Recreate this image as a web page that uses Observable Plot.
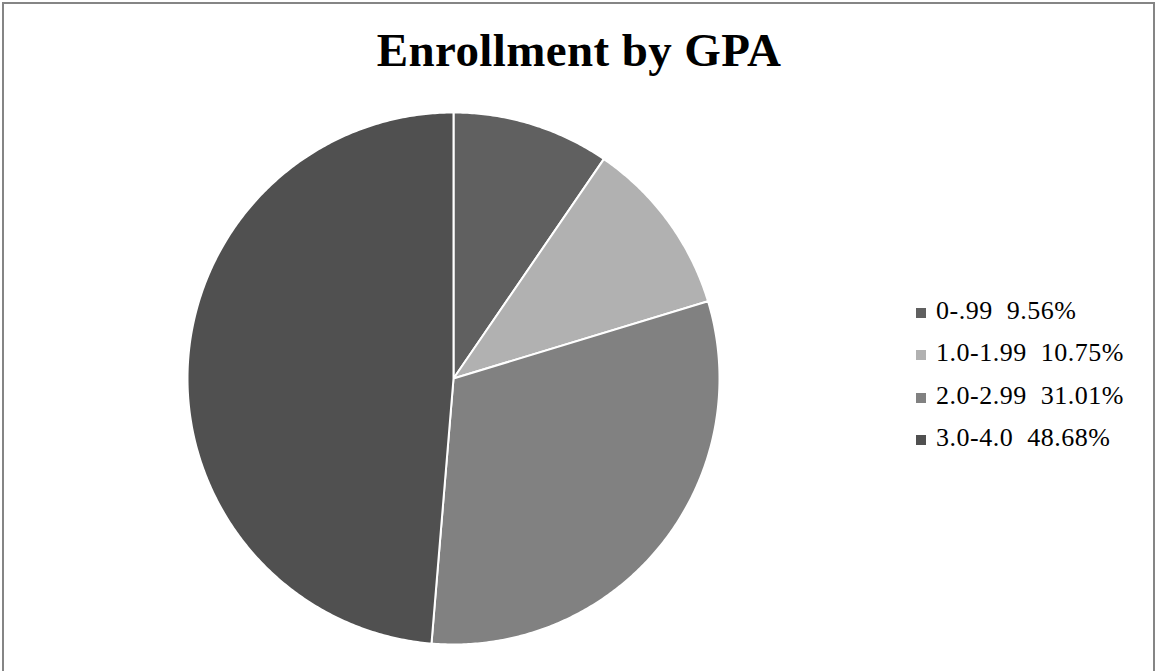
<!DOCTYPE html>
<html>
<head>
<meta charset="utf-8">
<script src="https://cdn.jsdelivr.net/npm/d3@7"></script>
<script src="https://cdn.jsdelivr.net/npm/@observablehq/plot@0.6"></script>
<style>
  html, body { margin: 0; padding: 0; background: #fff; overflow: hidden; }
  #frame { position: relative; width: 1155px; height: 671px; overflow: hidden; background: #fff; }
  #border { position: absolute; left: 2px; top: 2px; width: 1153px; height: 720px; box-sizing: border-box;
            border: 2px solid #858585; }
  #title { position: absolute; left: 0; width: 1158px; top: 24px; text-align: center;
           font-family: "Liberation Serif", serif; font-weight: bold; font-size: 47px; letter-spacing: 0.4px; color: #000; line-height: 52px; }
  #chart { position: absolute; left: 0; top: 100px; }
  #legend { position: absolute; left: 916px; top: 0; }
  .item { position: absolute; left: 0; white-space: pre; font-family: "Liberation Serif", serif; font-size: 26px; letter-spacing: 0.5px; color: #000; height: 30px; line-height: 30px; }
  .sw { position: absolute; left: 0; width: 10px; height: 10px; }
  .lab { position: absolute; left: 20px; top: 2px; }
</style>
</head>
<body>
<div id="frame">
  <div id="border"></div>
  <div id="title">Enrollment by GPA</div>
  <div id="chart"></div>
  <div id="legend"></div>
</div>
<script>
// ---- data ----
const categories = ["0-.99", "1.0-1.99", "2.0-2.99", "3.0-4.0"];
const percents = [9.56, 10.75, 31.01, 48.68];
const sliceColors = ["#606060", "#b1b1b1", "#818181", "#505050"];

// ---- build slice polygons (angles clockwise from 12 o'clock, unit radius) ----
const total = d3.sum(percents);
const rows = [];
let acc = 0;
categories.forEach((cat, i) => {
  const a0 = acc / total * 2 * Math.PI;
  acc += percents[i];
  const a1 = acc / total * 2 * Math.PI;
  const n = Math.max(2, Math.ceil((a1 - a0) / (Math.PI / 360)));
  rows.push({cat, x: 0, y: 0});
  for (let k = 0; k <= n; k++) {
    const a = a0 + (a1 - a0) * k / n;
    rows.push({cat, x: Math.sin(a), y: Math.cos(a)});
  }
  rows.push({cat, x: 0, y: 0});
});

const W = 906, H = 560, R = 266, CX = 453, CY = 278;
const svg = Plot.plot({
  width: W,
  height: H,
  margin: 0,
  x: {domain: [-CX / R, (W - CX) / R], axis: null},
  y: {domain: [-(H - CY) / R, CY / R], axis: null},
  color: {domain: categories, range: sliceColors},
  marks: [
    Plot.line(rows, {x: "x", y: "y", z: "cat", fill: "cat", stroke: "#ffffff", strokeWidth: 2, strokeLinejoin: "round"})
  ]
});
document.getElementById("chart").appendChild(svg);

// ---- legend ----
const legend = document.getElementById("legend");
const centers = [313, 355, 398, 440];
categories.forEach((cat, i) => {
  const item = document.createElement("div");
  item.className = "item";
  item.style.top = (centers[i] - 19) + "px";
  const sw = document.createElement("div");
  sw.className = "sw";
  sw.style.top = "14px";
  sw.style.background = sliceColors[i];
  const lab = document.createElement("div");
  lab.className = "lab";
  lab.textContent = cat + "  " + percents[i].toFixed(2) + "%";
  item.appendChild(sw);
  item.appendChild(lab);
  legend.appendChild(item);
});
</script>
</body>
</html>
